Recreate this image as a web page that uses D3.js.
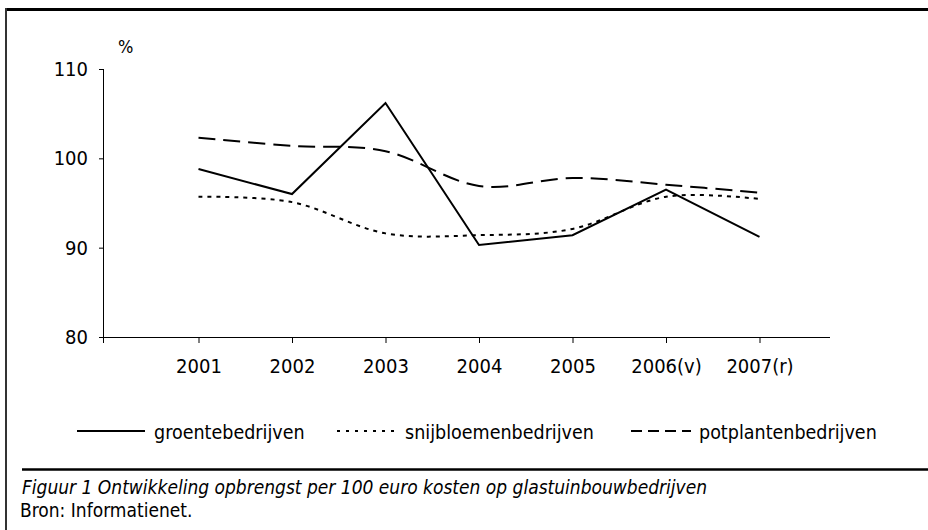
<!DOCTYPE html>
<html>
<head>
<meta charset="utf-8">
<script src="https://cdn.jsdelivr.net/npm/d3@7/dist/d3.min.js"></script>
<style>
  html, body { margin: 0; padding: 0; background: #fff; }
  svg { display: block; }
  text { font-family: "DejaVu Sans Condensed", "Liberation Sans Narrow", "Liberation Sans", sans-serif; fill: #000; }
</style>
</head>
<body>
<svg id="chart" width="928" height="530"></svg>
<script>
const categories = ["2001", "2002", "2003", "2004", "2005", "2006(v)", "2007(r)"];
const groente     = [98.8, 96.0, 106.2, 90.3, 91.4, 96.5, 91.2];
const snijbloemen = [95.7, 95.1, 91.6, 91.4, 92.1, 95.7, 95.45];
const potplanten  = [102.3, 101.4, 100.8, 96.9, 97.8, 97.05, 96.15];
const yTicks = [80, 90, 100, 110];
const seriesNames = ["groentebedrijven", "snijbloemenbedrijven", "potplantenbedrijven"];
const caption = "Figuur 1 Ontwikkeling opbrengst per 100 euro kosten op glastuinbouwbedrijven";
const source = "Bron: Informatienet.";
const unit = "%";

const svg = d3.select("#chart");
const FS = 20;

// frame
svg.append("line").attr("x1", 5).attr("x2", 928).attr("y1", 9.5).attr("y2", 9.5)
  .attr("stroke", "#000").attr("stroke-width", 3);
svg.append("line").attr("x1", 6).attr("x2", 6).attr("y1", 8).attr("y2", 530)
  .attr("stroke", "#333").attr("stroke-width", 2);
svg.append("line").attr("x1", 22).attr("x2", 928).attr("y1", 469.5).attr("y2", 469.5)
  .attr("stroke", "#000").attr("stroke-width", 2.5);

const x = d3.scalePoint().domain(categories).range([198.5, 759.5]);
const y = d3.scaleLinear().domain([80, 110]).range([337, 69]);
const axisLeftX = 103, axisRightX = 830;

// y axis
const gy = svg.append("g").attr("transform", `translate(${axisLeftX},0)`)
  .call(d3.axisLeft(y).tickValues(yTicks).tickSize(4).tickPadding(11).tickSizeOuter(0));
gy.select(".domain").attr("stroke", "#000").attr("d", `M0.5,${y(110)}V${y(80)}`);
gy.selectAll(".tick line").attr("stroke", "#000");
gy.selectAll(".tick text").attr("font-size", FS).attr("font-family", null);

// x axis
const gx = svg.append("g").attr("transform", `translate(0,${y(80)})`)
  .call(d3.axisBottom(x).tickSize(6).tickSizeOuter(0));
gx.select(".domain").attr("stroke", "#000").attr("d", `M${axisLeftX},0.5H${axisRightX}`);
gx.selectAll(".tick line").attr("stroke", "#000");
gx.selectAll(".tick text").attr("font-size", FS).attr("font-family", null)
  .attr("y", 35.5).attr("dy", 0);
gx.append("line").attr("x1", axisLeftX + 0.5).attr("x2", axisLeftX + 0.5).attr("y1", 0).attr("y2", 6).attr("stroke", "#000");

// unit
svg.append("text").attr("x", 118).attr("y", 53).attr("font-size", 18).text(unit);

const styles = [
  { data: groente, dash: null, curve: d3.curveLinear },
  { data: snijbloemen, dash: "4,5", curve: d3.curveCatmullRom.alpha(0) },
  { data: potplanten, dash: "17,8", curve: d3.curveCatmullRom.alpha(0) }
];

styles.forEach(s => {
  const line = d3.line().x((d, i) => x(categories[i])).y(d => y(d)).curve(s.curve);
  svg.append("path").datum(s.data).attr("d", line)
    .attr("fill", "none").attr("stroke", "#000").attr("stroke-width", 2)
    .attr("stroke-dasharray", s.dash);
});

// legend
const legendItems = [
  { x1: 77, x2: 145, tx: 154, dash: null },
  { x1: 337, x2: 397, tx: 405, dash: "3,6" },
  { x1: 631, x2: 691, tx: 699, dash: "11,6" }
];
legendItems.forEach((l, i) => {
  svg.append("line").attr("x1", l.x1).attr("x2", l.x2).attr("y1", 431).attr("y2", 431)
    .attr("stroke", "#000").attr("stroke-width", 2).attr("stroke-dasharray", l.dash);
  svg.append("text").attr("x", l.tx).attr("y", 439).attr("font-size", 19.5).text(seriesNames[i]);
});

// caption
svg.append("text").attr("x", 22).attr("y", 494).attr("font-size", 19).attr("font-style", "italic").text(caption);
svg.append("text").attr("x", 20).attr("y", 517).attr("font-size", 19).text(source);
</script>
</body>
</html>
